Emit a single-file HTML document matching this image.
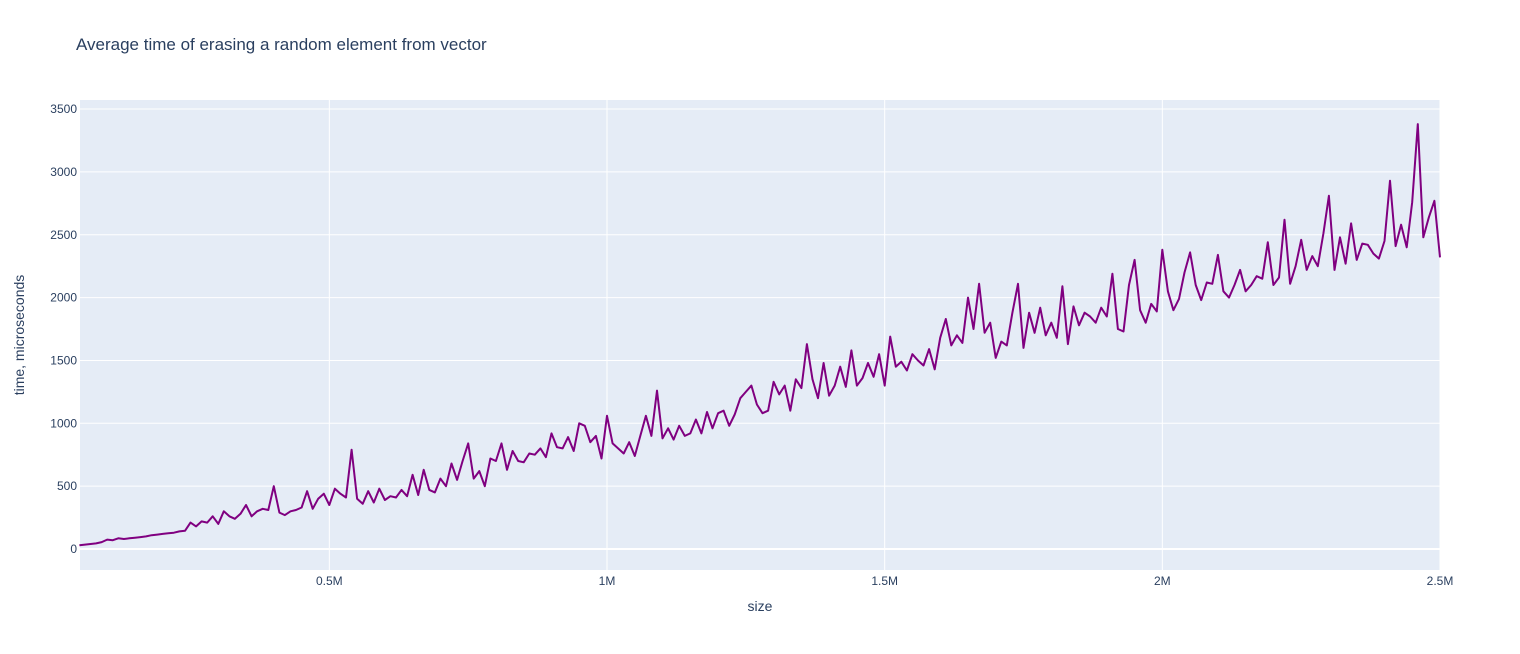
<!DOCTYPE html>
<html><head><meta charset="utf-8"><style>
body{margin:0;background:#fff;font-family:"Liberation Sans",Arial,sans-serif;}
svg text{font-family:"Liberation Sans",Arial,sans-serif;fill:#2a3f5f;}
</style></head><body>
<svg id="c" width="1520" height="649">
<text x="76" y="50" font-size="17">Average time of erasing a random element from vector</text>
<rect x="80" y="100" width="1360" height="470" fill="#e5ecf6"/>
<g id="grid"></g><g id="series"></g><g id="ticks"></g>
<text x="760" y="611" font-size="14" text-anchor="middle">size</text>
<text transform="translate(24,335) rotate(-90)" font-size="14" text-anchor="middle">time, microseconds</text>
</svg>
<script>
const xStart = 50000, xStep = 10000;
const times = [30,35,40,45,55,75,70,85,80,85,90,95,100,110,115,120,125,130,140,145,
210,180,220,210,260,200,300,260,240,280,350,260,300,320,310,500,290,270,300,310,330,460,320,400,440,
350,480,440,410,790,400,360,460,370,480,390,420,410,470,420,590,430,630,470,450,560,500,680,550,700,
840,560,620,500,720,700,840,630,780,700,690,760,750,800,730,920,810,800,890,780,1000,980,850,900,720,
1060,840,800,760,850,740,900,1060,900,1260,880,960,870,980,900,920,1030,920,1090,960,1080,1100,980,1070,1200,
1250,1300,1150,1080,1100,1330,1230,1300,1100,1350,1280,1630,1350,1200,1480,1220,1300,1450,1290,1580,1300,1360,1480,1370,1550,
1300,1690,1450,1490,1420,1550,1500,1460,1590,1430,1680,1830,1620,1700,1640,2000,1750,2110,1720,1800,1520,1650,1620,1880,2110,
1600,1880,1720,1920,1700,1800,1680,2090,1630,1930,1780,1880,1850,1800,1920,1850,2190,1750,1730,2100,2300,1900,1800,1950,1890,
2380,2050,1900,1990,2200,2360,2100,1980,2120,2110,2340,2050,2000,2100,2220,2050,2100,2170,2150,2440,2100,2160,2620,2110,2250,
2460,2220,2330,2250,2510,2810,2220,2480,2270,2590,2300,2430,2420,2350,2310,2450,2930,2410,2580,2400,2760,3380,2480,2640,2770,2320];
const xTickVals = [500000,1000000,1500000,2000000,2500000];
const xTickLabels = ["0.5M","1M","1.5M","2M","2.5M"];
const yTickVals = [0,500,1000,1500,2000,2500,3000,3500];
const xMin=51000,xMax=2500000,yMin=-167,yMax=3572;
const L=80,R=1440,T=100,B=570;
const sx=v=>L+(v-xMin)/(xMax-xMin)*(R-L);
const sy=v=>B-(v-yMin)/(yMax-yMin)*(B-T);
const NS="http://www.w3.org/2000/svg";
const grid=document.getElementById('grid'),ticks=document.getElementById('ticks'),ser=document.getElementById('series');
function mk(t,a,p){const e=document.createElementNS(NS,t);for(const k in a)e.setAttribute(k,a[k]);p.appendChild(e);return e;}
xTickVals.forEach((v,i)=>{
  const g=mk('line',{x1:sx(v),x2:sx(v),y1:T,y2:B,stroke:'#fff','stroke-width':1},grid);
  
  
  const t=mk('text',{x:sx(v),y:B+15,'font-size':12,'text-anchor':'middle'},ticks);
  t.textContent=xTickLabels[i];
  
  
});
yTickVals.forEach(v=>{
  const g=mk('line',{x1:L,x2:R,y1:sy(v),y2:sy(v),stroke:'#fff','stroke-width':v===0?2:1},grid);
  
  
  const t=mk('text',{x:L-3,y:sy(v)+4,'font-size':12,'text-anchor':'end'},ticks);
  t.textContent=String(v);
  
  
});
const pts=times.map((v,i)=>sx(xStart+i*xStep).toFixed(1)+','+sy(v).toFixed(1)).join(' ');
const pl=mk('polyline',{points:pts,fill:'none',stroke:'#800080','stroke-width':2,'stroke-linejoin':'round'},ser);


</script>
</body></html>
